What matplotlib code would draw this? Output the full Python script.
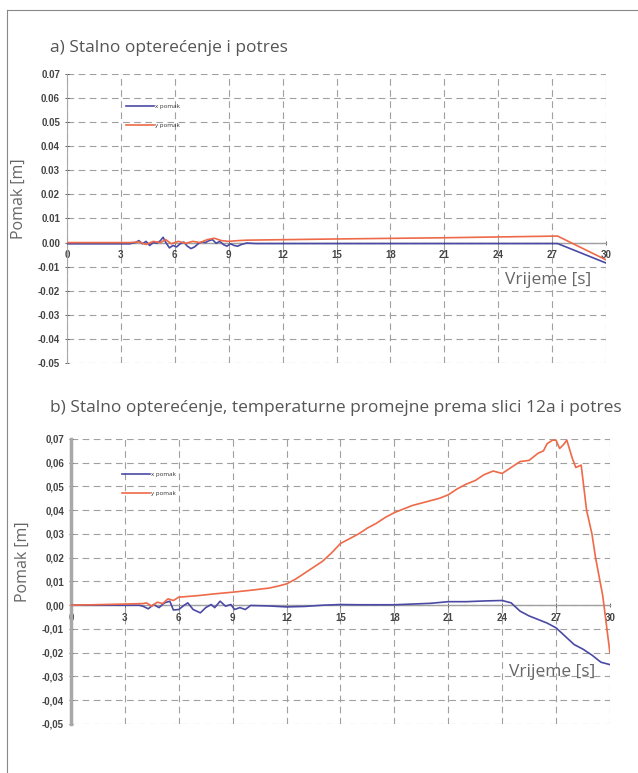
import matplotlib
matplotlib.use("Agg")
import matplotlib.pyplot as plt
from matplotlib.lines import Line2D

plt.rcParams['font.family'] = ['Open Sans', 'DejaVu Sans']

# a) Stalno opterećenje i potres
t_a_x = [0, 3.5, 3.8, 4.0, 4.2, 4.4, 4.6, 4.8, 5.0, 5.2, 5.35, 5.5, 5.7, 5.9, 6.1, 6.3,
         6.5, 6.7, 6.9, 7.1, 7.3, 7.5, 7.7, 7.9, 8.1, 8.3, 8.5, 8.7, 8.9, 9.1, 9.3, 9.5,
         9.7, 10.0, 10.5, 27.3, 30]
x_a = [-0.0005, -0.0005, 0.0, 0.0008, -0.0005, 0.0005, -0.0012, 0.0, -0.0003, 0.0008,
       0.0022, 0.0, -0.0022, -0.0012, -0.0018, -0.0005, 0.0002, -0.0015, -0.0025, -0.0018,
       -0.0005, 0.0003, 0.0, 0.0008, 0.0012, -0.0003, 0.0005, -0.0008, -0.0015, -0.0005,
       -0.0012, -0.0015, -0.0008, -0.0002, -0.0004, -0.0004, -0.0085]
t_a_y = [0, 3.5, 4.0, 4.4, 4.8, 5.2, 5.5, 5.8, 6.2, 6.6, 7.0, 7.4, 7.8, 8.2, 8.6, 9.0,
         9.5, 10.0, 15, 21, 27.3, 30]
y_a = [0.0, 0.0, 0.0003, -0.0008, 0.0005, 0.0, 0.0012, -0.0005, 0.0005, -0.0003, 0.0005,
       0.0, 0.0012, 0.0018, 0.0008, 0.0005, 0.0008, 0.001, 0.0015, 0.002, 0.0027, -0.0072]

# b) Stalno opterećenje, temperaturne promjene i potres
t_b_x = [0, 3.8, 4.0, 4.3, 4.6, 4.9, 5.2, 5.5, 5.7, 6.0, 6.3, 6.5, 6.8, 7.2, 7.5, 7.8,
         8.0, 8.3, 8.6, 8.9, 9.1, 9.4, 9.7, 10.0, 11, 12, 13, 14, 15, 16, 17, 18, 19, 20,
         21, 22, 23, 24, 24.5, 25, 25.5, 26, 26.5, 27, 27.5, 28, 28.5, 29, 29.5, 30]
x_b = [0.0, 0.0, -0.0004, -0.0015, 0.0003, -0.001, 0.001, 0.0017, -0.002, -0.0018, 0.0,
       0.001, -0.0018, -0.0032, -0.001, 0.0003, -0.001, 0.0017, -0.0004, 0.0003, -0.0018,
       -0.001, -0.0018, -0.0001, -0.0003, -0.0007, -0.0005, 0.0, 0.0003, 0.0002, 0.0002,
       0.0002, 0.0005, 0.0008, 0.0015, 0.0015, 0.0018, 0.002, 0.001, -0.0025, -0.0045,
       -0.006, -0.0075, -0.0095, -0.013, -0.0165, -0.0185, -0.021, -0.024, -0.025]
t_b_y = [0, 3.0, 4.0, 4.2, 4.5, 4.8, 5.1, 5.4, 5.7, 6.0, 7, 8, 9, 10, 11, 11.5, 12, 12.5,
         13, 13.5, 14, 14.5, 15, 15.5, 16, 16.5, 17, 17.5, 18, 18.5, 19, 19.5, 20, 20.5,
         21, 21.5, 22, 22.5, 23, 23.5, 24, 24.3, 24.7, 25, 25.5, 26, 26.3, 26.5, 26.8,
         27.0, 27.2, 27.4, 27.6, 27.9, 28.1, 28.4, 28.7, 29.0, 29.2, 29.4, 29.6, 29.8, 30]
y_b = [0.0, 0.0005, 0.0007, 0.001, -0.0004, 0.0013, 0.0007, 0.0027, 0.002, 0.0034, 0.004,
       0.0048, 0.0055, 0.0063, 0.0072, 0.008, 0.009, 0.011, 0.0135, 0.016, 0.0185, 0.022,
       0.026, 0.028, 0.030, 0.0325, 0.0345, 0.037, 0.039, 0.0405, 0.042, 0.043, 0.044,
       0.045, 0.0465, 0.049, 0.051, 0.0525, 0.055, 0.0565, 0.0555, 0.057, 0.059, 0.0605,
       0.061, 0.064, 0.065, 0.068, 0.0695, 0.0695, 0.066, 0.0675, 0.0695, 0.062, 0.058,
       0.059, 0.040, 0.030, 0.020, 0.012, 0.004, -0.008, -0.020]

x_ticks = [0, 3, 6, 9, 12, 15, 18, 21, 24, 27, 30]
y_ticks = [0.07, 0.06, 0.05, 0.04, 0.03, 0.02, 0.01, 0.0, -0.01, -0.02, -0.03, -0.04, -0.05]

BLUE = '#4a4aa6'
ORANGE = '#ee6a48'
GRID = '#a0a0a0'
TXT = '#555555'
TICKFONT = ['Liberation Sans', 'DejaVu Sans']


def draw_panel(ax, tx, xv, ty, yv, sep, spine_w, leg_pos, vr_y):
    ax.plot(tx, xv, color=BLUE, lw=1.2, label='x pomak', zorder=3)
    ax.plot(ty, yv, color=ORANGE, lw=1.2, label='y pomak', zorder=3)
    ax.set_xlim(0, 30)
    ax.set_ylim(-0.05, 0.07)
    ax.set_xticks(x_ticks)
    ax.set_yticks(y_ticks)
    ax.set_yticklabels([('%.2f' % v).replace('-0.00', '0.00').replace('.', sep) for v in y_ticks])
    ax.grid(True, color=GRID, ls=(0, (6, 4)), lw=0.8)
    for s in ('top', 'right'):
        ax.spines[s].set_visible(False)
    ax.spines['bottom'].set_position(('data', 0))
    ax.spines['bottom'].set_color('#a0a0a0')
    ax.spines['bottom'].set_linewidth(1.0)
    ax.spines['left'].set_color('#a8a8a8')
    ax.spines['left'].set_linewidth(spine_w)
    ax.tick_params(axis='both', labelsize=7, colors='#444444', length=3, width=0.6,
                   direction='inout')
    ax.tick_params(axis='x', pad=4)
    for lab in ax.get_xticklabels() + ax.get_yticklabels():
        lab.set_fontweight('bold')
        lab.set_family(TICKFONT)
    ax.set_ylabel('Pomak [m]', fontsize=11.5, color='#666666')
    ax.yaxis.set_label_coords(-0.075, 0.57)
    ax.text(0.893, vr_y, 'Vrijeme [s]', transform=ax.transAxes, fontsize=12.5,
            color='#666666', ha='center', va='center')
    leg = ax.legend(loc='upper left', bbox_to_anchor=leg_pos, frameon=False, fontsize=4.5,
                    handlelength=4.5, handletextpad=0.2, labelspacing=2.2, borderaxespad=0)
    for tx_ in leg.get_texts():
        tx_.set_color('#333333')


fig = plt.figure(figsize=(6.38, 7.73), dpi=100)

ax1 = fig.add_axes([0.105, 0.5304, 0.845, 0.3739])
draw_panel(ax1, t_a_x, x_a, t_a_y, y_a, '.', 0.8, (0.105, 0.905), 0.287)
fig.text(0.078, 0.938, 'a) Stalno opterećenje i potres', fontsize=12.5, color=TXT, va='center')

ax2 = fig.add_axes([0.1113, 0.0634, 0.8447, 0.3687])
draw_panel(ax2, t_b_x, x_b, t_b_y, y_b, ',', 2.5, (0.09, 0.895), 0.182)
fig.text(0.078, 0.472, 'b) Stalno opterećenje, temperaturne promejne prema slici 12a i potres',
         fontsize=12.5, color=TXT, va='center')

# page frame (left and top edges)
fig.add_artist(Line2D([7 / 638, 7 / 638], [0, 1 - 10 / 773], color='#888888', lw=0.8))
fig.add_artist(Line2D([7 / 638, 1], [1 - 10 / 773, 1 - 10 / 773], color='#888888', lw=0.8))

fig.savefig('out.png', dpi=100)
